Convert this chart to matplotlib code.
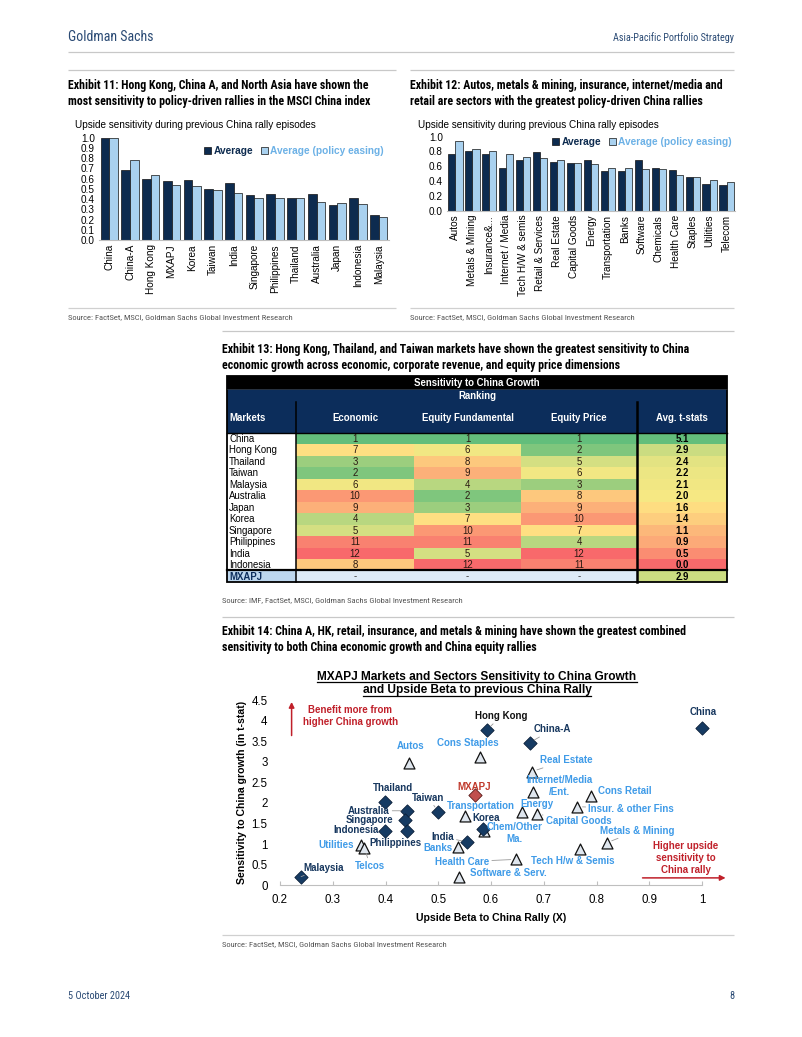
import numpy as np
import matplotlib
matplotlib.use("Agg")
import matplotlib.pyplot as plt
from matplotlib import font_manager
from matplotlib.patches import Rectangle

W, H = 802, 1037

# Exhibit 11: markets, upside sensitivity during China rallies
markets_11 = ["China", "China-A", "Hong Kong", "MXAPJ", "Korea", "Taiwan", "India",
              "Singapore", "Philippines", "Thailand", "Australia", "Japan", "Indonesia", "Malaysia"]
avg_11 = [1.00, 0.68, 0.60, 0.58, 0.59, 0.50, 0.56, 0.44, 0.45, 0.41, 0.45, 0.34, 0.41, 0.24]
easing_11 = [1.00, 0.78, 0.64, 0.54, 0.53, 0.49, 0.46, 0.41, 0.41, 0.41, 0.37, 0.36, 0.35, 0.22]

# Exhibit 12: sectors
sectors_12 = ["Autos", "Metals & Mining", "Insurance&...", "Internet / Media", "Tech H/W & semis",
              "Retail & Services", "Real Estate", "Capital Goods", "Energy", "Transportation",
              "Banks", "Software", "Chemicals", "Health Care", "Staples", "Utilities", "Telecom"]
avg_12 = [0.77, 0.81, 0.76, 0.58, 0.68, 0.79, 0.66, 0.65, 0.69, 0.54, 0.54, 0.68, 0.58, 0.55, 0.45, 0.36, 0.35]
easing_12 = [0.94, 0.83, 0.81, 0.76, 0.73, 0.71, 0.69, 0.65, 0.63, 0.58, 0.58, 0.57, 0.56, 0.48, 0.45, 0.41, 0.39]

# Exhibit 13: ranking table
table_markets = ["China", "Hong Kong", "Thailand", "Taiwan", "Malaysia", "Australia", "Japan",
                 "Korea", "Singapore", "Philippines", "India", "Indonesia"]
rank_economic = [1, 7, 3, 2, 6, 10, 9, 4, 5, 11, 12, 8]
rank_fundamental = [1, 6, 8, 9, 4, 2, 3, 7, 10, 11, 5, 12]
rank_price = [1, 2, 5, 6, 3, 8, 9, 10, 7, 4, 12, 11]
avg_tstat = [5.1, 2.9, 2.4, 2.2, 2.1, 2.0, 1.6, 1.4, 1.1, 0.9, 0.5, 0.0]
mxapj_tstat = 2.9

# Exhibit 14: scatter
markets_14 = ["China", "Hong Kong", "China-A", "Thailand", "Australia", "Taiwan", "Singapore",
              "Korea", "Indonesia", "Philippines", "India", "Malaysia"]
mkt_beta = [1.00, 0.592, 0.673, 0.400, 0.440, 0.500, 0.437, 0.585, 0.400, 0.440, 0.555, 0.240]
mkt_tstat = [3.83, 3.77, 3.46, 2.02, 1.81, 1.79, 1.58, 1.36, 1.31, 1.31, 1.05, 0.21]
mxapj_beta, mxapj_t = 0.570, 2.20
sectors_14 = ["Cons Staples", "Autos", "Real Estate", "Internet/Media\n/Ent.", "Cons Retail",
              "Insur. & other Fins", "Capital Goods", "Energy", "Transportation", "Chem/Other\nMa.",
              "Metals & Mining", "Utilities", "Banks", "Telcos", "Tech H/w & Semis", "Health Care",
              "Software & Serv."]
sec_beta = [0.580, 0.445, 0.677, 0.680, 0.790, 0.763, 0.687, 0.658, 0.550, 0.586, 0.819, 0.354,
            0.537, 0.360, 0.769, 0.648, 0.540]
sec_tstat = [3.12, 2.97, 2.76, 2.27, 2.17, 1.91, 1.73, 1.79, 1.69, 1.33, 1.03, 0.98, 0.92, 0.90,
             0.88, 0.63, 0.20]

# label placement for exhibit 14 (data coords, text centre) and whether a leader line is drawn
label_pos = {
    "China": (1.003, 4.21, False), "Hong Kong": (0.619, 4.11, True), "China-A": (0.717, 3.79, True),
    "Thailand": (0.414, 2.37, False), "Australia": (0.368, 1.81, True), "Taiwan": (0.481, 2.13, True),
    "Singapore": (0.369, 1.58, False), "Korea": (0.591, 1.63, False), "Indonesia": (0.344, 1.34, False),
    "Philippines": (0.418, 1.03, False), "India": (0.508, 1.18, True), "Malaysia": (0.282, 0.43, True),
    "MXAPJ": (0.569, 2.39, False),
    "Cons Staples": (0.556, 3.45, False), "Autos": (0.448, 3.38, False), "Real Estate": (0.743, 3.04, True),
    "Internet/Media\n/Ent.": (0.730, 2.41, False), "Cons Retail": (0.853, 2.29, False),
    "Insur. & other Fins": (0.866, 1.86, True), "Capital Goods": (0.766, 1.57, True),
    "Energy": (0.687, 1.97, False), "Transportation": (0.581, 1.93, False),
    "Chem/Other\nMa.": (0.645, 1.265, False), "Metals & Mining": (0.878, 1.33, True),
    "Utilities": (0.306, 0.99, False), "Banks": (0.499, 0.90, False), "Telcos": (0.371, 0.48, True),
    "Tech H/w & Semis": (0.755, 0.60, False), "Health Care": (0.545, 0.57, True),
    "Software & Serv.": (0.633, 0.31, False),
}

NAVY = "#0d2b4f"
LIGHT = "#a9d1ef"
LIGHT_TXT = "#6cb1e6"
SECTOR_BLUE = "#3f9be8"
RED = "#c0202a"

names = {f.name for f in font_manager.fontManager.ttflist}
COND = next((n for n in ["Liberation Sans Narrow", "Roboto Condensed", "Open Sans Condensed"] if n in names),
            "Liberation Sans")
plt.rcParams["font.family"] = ["Liberation Sans", "DejaVu Sans"]

fig = plt.figure(figsize=(W / 100, H / 100), dpi=100)
page = fig.add_axes([0, 0, 1, 1])
page.set_xlim(0, W)
page.set_ylim(H, 0)
page.axis("off")


def px_axes(x0, y0, x1, y1):
    return fig.add_axes([x0 / W, 1 - y1 / H, (x1 - x0) / W, (y1 - y0) / H])


def hline(y, x0, x1, color="#c8c8c8", lw=0.9):
    page.plot([x0, x1], [y, y], color=color, lw=lw, solid_capstyle="butt")


def ptext(x, y, s, size=8, **kw):
    kw.setdefault("va", "center")
    kw.setdefault("family", COND)
    page.text(x, y, s, fontsize=size, **kw)


# ---------------- page furniture ----------------
TS = 8.55   # exhibit title size
SS = 6.1    # source size
ptext(68, 37, "Goldman Sachs", size=10, color="#2a4a74")
ptext(734, 38, "Asia-Pacific Portfolio Strategy", size=7.3, color="#2a4a74", ha="right")
hline(52, 68, 734)

hline(70, 68, 396)
hline(70, 410, 734)
ptext(68, 85, "Exhibit 11: Hong Kong, China A, and North Asia have shown the", size=TS, weight="bold")
ptext(68, 101, "most sensitivity to policy-driven rallies in the MSCI China index", size=TS, weight="bold")
ptext(410, 85, "Exhibit 12: Autos, metals & mining, insurance, internet/media and", size=TS, weight="bold")
ptext(410, 101, "retail are sectors with the greatest policy-driven China rallies", size=TS, weight="bold")
hline(308, 68, 396, color="#d0d0d0")
hline(308, 410, 734, color="#d0d0d0")
ptext(68, 317, "Source: FactSet, MSCI, Goldman Sachs Global Investment Research", size=SS, color="#555555")
ptext(410, 317, "Source: FactSet, MSCI, Goldman Sachs Global Investment Research", size=SS, color="#555555")

hline(331, 222, 734)
ptext(222, 349, "Exhibit 13: Hong Kong, Thailand, and Taiwan markets have shown the greatest sensitivity to China",
      size=TS, weight="bold")
ptext(222, 365, "economic growth across economic, corporate revenue, and equity price dimensions",
      size=TS, weight="bold")
ptext(222, 600, "Source: IMF, FactSet, MSCI, Goldman Sachs Global Investment Research", size=SS, color="#555555")

hline(617, 222, 734)
ptext(222, 632, "Exhibit 14: China A, HK, retail, insurance, and metals & mining have shown the greatest combined",
      size=TS, weight="bold")
ptext(222, 648, "sensitivity to both China economic growth and China equity rallies", size=TS, weight="bold")
hline(935, 222, 734, color="#d0d0d0")
ptext(222, 944, "Source: FactSet, MSCI, Goldman Sachs Global Investment Research", size=SS, color="#555555")

ptext(68, 996, "5 October 2024", size=7.4, color="#2a4a74")
ptext(734, 996, "8", size=7.4, color="#2a4a74", ha="right")


# ---------------- bar charts ----------------
def bar_chart(box, cats, a, b, step, legend_xy, title_xy):
    ax = px_axes(*box)
    x = np.arange(len(cats))
    w = 0.42
    b1 = ax.bar(x - w / 2, a, w, color=NAVY, edgecolor="#111111", lw=0.5, label="Average")
    b2 = ax.bar(x + w / 2, b, w, color=LIGHT, edgecolor="#111111", lw=0.5, label="Average (policy easing)")
    ax.set_xlim(-0.5, len(cats) - 0.5)
    ax.set_ylim(0, 1.0)
    ax.set_yticks(np.arange(0, 1.0001, step))
    ax.set_yticklabels([f"{v:.1f}" for v in np.arange(0, 1.0001, step)])
    ax.set_xticks(x)
    ax.set_xticklabels(cats, rotation=90)
    ax.tick_params(axis="both", length=0, labelsize=7.2, pad=3)
    for s in ["top", "right", "left"]:
        ax.spines[s].set_visible(False)
    ax.spines["bottom"].set_color("#bfbfbf")
    ax.patch.set_alpha(0)
    leg = ax.legend(handles=[b1, b2], loc="center left", ncol=2, frameon=False,
                    bbox_to_anchor=(legend_xy[0] / W, 1 - legend_xy[1] / H), bbox_transform=fig.transFigure,
                    handlelength=0.7, handleheight=0.7, handletextpad=0.2, columnspacing=0.8,
                    prop={"size": 7.3, "weight": "bold"})
    leg.get_texts()[0].set_color(NAVY)
    leg.get_texts()[1].set_color(LIGHT_TXT)
    ptext(title_xy[0], title_xy[1], "Upside sensitivity during previous China rally episodes",
          size=7.2, family="Liberation Sans")
    return ax


bar_chart((99, 137.7, 389, 240), markets_11, avg_11, easing_11, 0.1, (195, 151), (75, 125))
bar_chart((447, 136.7, 735, 210.7), sectors_12, avg_12, easing_12, 0.2, (543, 142), (418, 125))

# ---------------- table ----------------
col_edges = [227, 296, 414, 521, 637, 727]
top = 376
h_title, h_rank, h_head, h_row, h_last = 13, 13, 31, 11.45, 11.8
GREEN = np.array([99, 190, 123]) / 255
YELLOW = np.array([255, 235, 132]) / 255
REDC = np.array([248, 105, 107]) / 255


def scale_color(v, lo, mid, hi, high_good=False):
    # excel-style 3-colour scale
    if high_good:
        lo_c, hi_c = REDC, GREEN
    else:
        lo_c, hi_c = GREEN, REDC
    if v <= mid:
        t = 0 if mid == lo else (v - lo) / (mid - lo)
        return tuple(lo_c + (YELLOW - lo_c) * t)
    t = (v - mid) / (hi - mid)
    return tuple(YELLOW + (hi_c - YELLOW) * t)


def cell(x0, x1, y0, h, color, text="", tcolor="black", ha="center", weight="normal", size=6.9):
    page.add_patch(Rectangle((x0, y0), x1 - x0, h, facecolor=color, edgecolor="none"))
    if text != "":
        tx = (x0 + x1) / 2 if ha == "center" else x0 + 2
        page.text(tx, y0 + h / 2 + 0.3, text, ha=ha, va="center", fontsize=size, color=tcolor,
                  weight=weight, family="Liberation Sans")


TNAVY = "#0c2d5b"
cell(col_edges[0], col_edges[-1], top, h_title, "black", "Sensitivity to China Growth", "white", weight="bold", size=6.9)
y = top + h_title
cell(col_edges[0], col_edges[-1], y, h_rank, TNAVY, "Ranking", "white", weight="bold", size=6.9)
y += h_rank
headers = ["Markets", "Economic", "Equity Fundamental", "Equity Price", "Avg. t-stats"]
for i, hd in enumerate(headers):
    cell(col_edges[i], col_edges[i + 1], y, h_head, TNAVY, hd, "white",
         ha="left" if i == 0 else "center", weight="bold", size=6.9)
head_top = y
y += h_head
data_top = y
rank_cols = [rank_economic, rank_fundamental, rank_price]
t_mid = np.percentile(avg_tstat, 50)
for r, m in enumerate(table_markets):
    yy = data_top + r * h_row
    cell(col_edges[0], col_edges[1], yy, h_row, "white", m, "black", ha="left")
    for c, col in enumerate(rank_cols):
        cell(col_edges[c + 1], col_edges[c + 2], yy, h_row, scale_color(col[r], 1, 6.5, 12),
             str(col[r]), "#2b1a12")
    cell(col_edges[4], col_edges[5], yy, h_row,
         scale_color(avg_tstat[r], min(avg_tstat), t_mid, max(avg_tstat), high_good=True),
         f"{avg_tstat[r]:.1f}", "black", weight="bold")
last_top = data_top + len(table_markets) * h_row
cell(col_edges[0], col_edges[1], last_top, h_last, "#bdd7ee", "MXAPJ", TNAVY, ha="left", weight="bold")
for c in range(3):
    cell(col_edges[c + 1], col_edges[c + 2], last_top, h_last, "#ddebf7", "-", "#333333")
cell(col_edges[4], col_edges[5], last_top, h_last,
     scale_color(mxapj_tstat, min(avg_tstat), t_mid, max(avg_tstat), high_good=True),
     f"{mxapj_tstat:.1f}", "black", weight="bold")
bottom = last_top + h_last
# borders
page.add_patch(Rectangle((col_edges[0], top), col_edges[-1] - col_edges[0], bottom - top,
                         facecolor="none", edgecolor="black", lw=1.3))
page.plot([col_edges[1], col_edges[1]], [head_top, bottom], color="black", lw=1.1)
page.plot([col_edges[4], col_edges[4]], [head_top, bottom], color="black", lw=1.8)
page.plot([col_edges[0], col_edges[-1]], [data_top, data_top], color="black", lw=1.0)
page.plot([col_edges[0], col_edges[-1]], [last_top, last_top], color="black", lw=1.6)
page.plot([col_edges[0], col_edges[-1]], [top + h_title, top + h_title], color="#333333", lw=0.5)

# ---------------- scatter ----------------
ax = px_axes(280, 700, 702, 885.3)
ax.patch.set_alpha(0)
ax.set_xlim(0.2, 1.0)
ax.set_ylim(0, 4.5)
ax.set_xticks(np.arange(0.2, 1.01, 0.1))
ax.set_xticklabels(["0.2", "0.3", "0.4", "0.5", "0.6", "0.7", "0.8", "0.9", "1"])
ax.set_yticks(np.arange(0, 4.51, 0.5))
ax.set_yticklabels(["0", "0.5", "1", "1.5", "2", "2.5", "3", "3.5", "4", "4.5"])
ax.tick_params(axis="both", labelsize=8.3)
ax.tick_params(axis="x", direction="in", length=3, color="#bfbfbf", pad=6)
ax.tick_params(axis="y", length=0, pad=9)
for s in ["top", "right", "left"]:
    ax.spines[s].set_visible(False)
ax.spines["bottom"].set_color("#bfbfbf")
ax.set_xlabel("Upside Beta to China Rally (X)", fontsize=7.6, weight="bold")
ax.set_ylabel("Sensitivity to China growth (in t-stat)", fontsize=7.6, weight="bold")
ax.xaxis.set_label_coords(0.5, -0.15)
ax.yaxis.set_label_coords(-0.078, 0.5)

ax.scatter(sec_beta, sec_tstat, marker="^", s=62, facecolor="#dfe6ee", edgecolor="#111111",
           lw=0.9, zorder=3, clip_on=False)
ax.scatter(mkt_beta, mkt_tstat, marker="D", s=46, facecolor="#163b63", edgecolor="#0a1f38",
           lw=0.6, zorder=4, clip_on=False)
ax.scatter([mxapj_beta], [mxapj_t], marker="D", s=46, facecolor="#c0504d", edgecolor="#5a1a18",
           lw=0.6, zorder=4, clip_on=False)

line_kw = dict(arrowstyle="-", color="#9a9a9a", lw=0.6, shrinkA=0, shrinkB=4)


def put_label(name, px, py, color):
    lx, ly, lead = label_pos[name]
    ax.annotate(name, xy=(px, py), xytext=(lx, ly), ha="center", va="center", fontsize=7,
                weight="bold", color=color, linespacing=1.25, annotation_clip=False,
                arrowprops=line_kw if lead else None, zorder=5)


for n, bx, ty in zip(markets_14, mkt_beta, mkt_tstat):
    put_label(n, bx, ty, "#111111" if n == "Hong Kong" else "#17375e")
put_label("MXAPJ", mxapj_beta, mxapj_t, "#c0392b")
for n, bx, ty in zip(sectors_14, sec_beta, sec_tstat):
    put_label(n, bx, ty, SECTOR_BLUE)

ax.annotate("", xy=(0.222, 4.52), xytext=(0.222, 3.57), annotation_clip=False,
            arrowprops=dict(arrowstyle="-|>", color=RED, lw=1.1, mutation_scale=8))
ax.text(0.333, 4.11, "Benefit more from\nhigher China growth", ha="center", va="center", fontsize=7,
        weight="bold", color=RED, linespacing=1.3)
ax.annotate("", xy=(1.05, 0.18), xytext=(0.882, 0.18), annotation_clip=False,
            arrowprops=dict(arrowstyle="-|>", color=RED, lw=1.1, mutation_scale=8))
ax.text(0.969, 0.66, "Higher upside\nsensitivity to\nChina rally", ha="center", va="center", fontsize=7,
        weight="bold", color=RED, linespacing=1.25, clip_on=False)

t1 = page.text(477, 677, "MXAPJ Markets and Sectors Sensitivity to China Growth", ha="center", va="center",
               fontsize=8.6, weight="bold", family="Liberation Sans")
t2 = page.text(477, 690.5, "and Upside Beta to previous China Rally", ha="center", va="center",
               fontsize=8.6, weight="bold", family="Liberation Sans")
fig.canvas.draw()
inv = page.transData.inverted()
for t in (t1, t2):
    bb = t.get_window_extent()
    (x0, _), (x1, _) = inv.transform([(bb.x0, bb.y0), (bb.x1, bb.y0)])
    yb = inv.transform([(bb.x0, bb.y0)])[0][1]
    page.plot([x0, x1], [yb - 0.8, yb - 0.8], color="black", lw=0.9)

fig.savefig("out.png", dpi=100)
